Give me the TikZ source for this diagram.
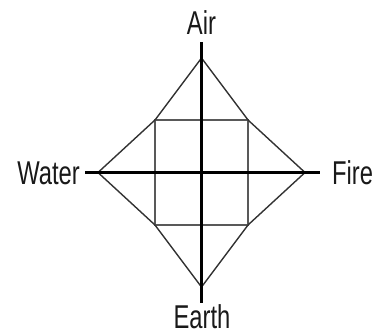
\documentclass[tikz,border=0pt]{standalone}
\usepackage{fontspec}
\setmainfont{Liberation Sans}[FakeStretch=0.72]
\begin{document}
\begin{tikzpicture}[x=1pt,y=-1pt,
  axis/.style={line width=2.6pt,black},
  edge/.style={line width=1.4pt,black!80},
  sq/.style={line width=1.4pt,black!65},
  lbl/.style={inner sep=0pt,font=\fontsize{33}{36}\selectfont,text=black!90}]
\useasboundingbox (0,0) rectangle (379,335);
% centre and vertices
\coordinate (c) at (201.5,172.5);
\coordinate (top) at (201.5,58);
\coordinate (bot) at (201.5,287);
\coordinate (lft) at (98,172.5);
\coordinate (rgt) at (305,172.5);
% square corners
\coordinate (tl) at (155,120);
\coordinate (tr) at (248,120);
\coordinate (bl) at (155,225);
\coordinate (br) at (248,225);
% axis ends
\coordinate (atop) at (201.5,42);
\coordinate (abot) at (201.5,303);
\coordinate (alft) at (85,172.5);
\coordinate (argt) at (320,172.5);
% labels
\node[lbl,anchor=base] (air) at (201.5,34) {Air};
\node[lbl,anchor=base] (earth) at (202,328) {Earth};
\node[lbl,anchor=base east] (water) at (80,184) {Water};
\node[lbl,anchor=base west] (fire) at (332,184) {Fire};
% square
\draw[sq] (tl) -- (tr) -- (br) -- (bl) -- cycle;
% diamond
\draw[edge,line join=miter] (top) -- (tr) -- (rgt) -- (br) -- (bot) -- (bl) -- (lft) -- (tl) -- cycle;
% axes
\draw[axis] (atop) -- (abot);
\draw[axis] (alft) -- (argt);
\end{tikzpicture}
\end{document}
